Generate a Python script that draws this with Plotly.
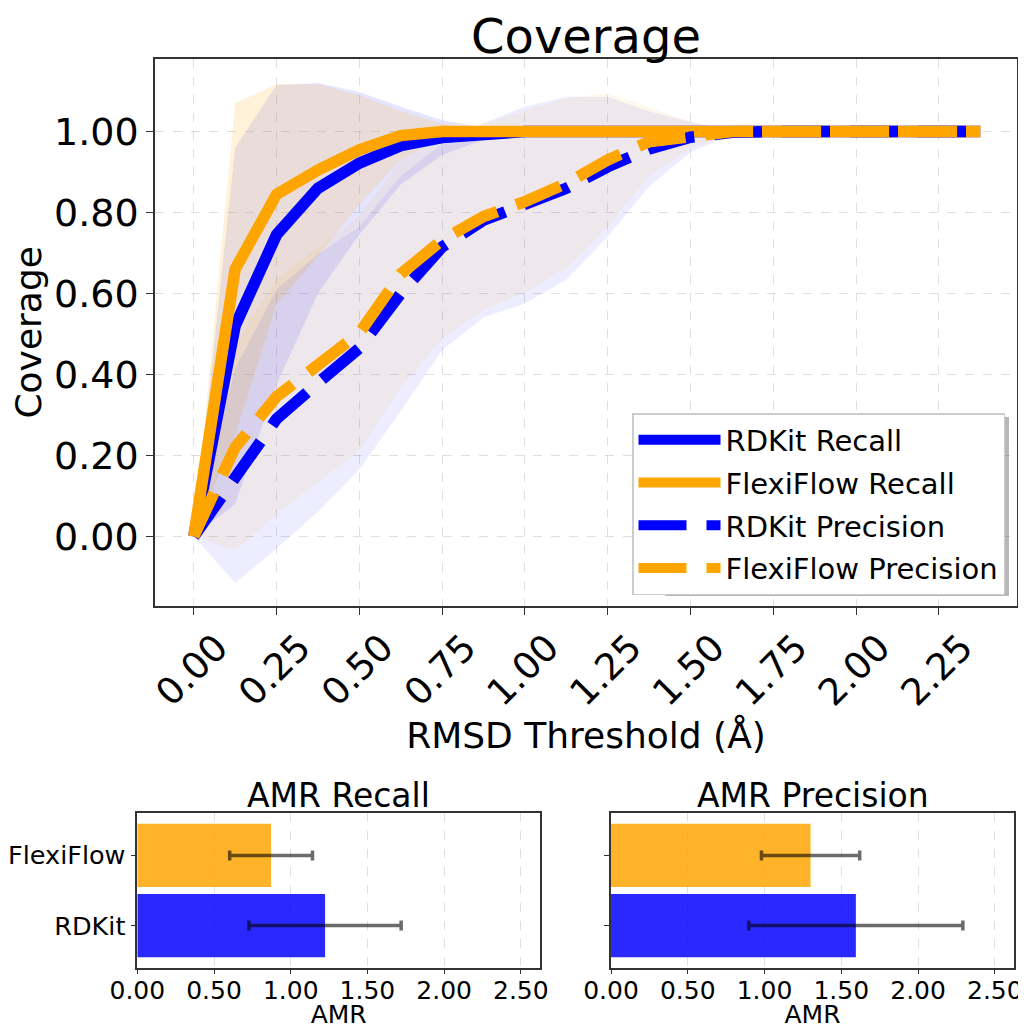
import plotly.graph_objects as go

# ---------------- data ----------------
thresholds = [0.0, 0.125, 0.25, 0.375, 0.5, 0.625, 0.75, 0.875, 1.0, 1.125,
              1.25, 1.375, 1.5, 1.625, 1.75, 1.875, 2.0, 2.125, 2.25, 2.375]

rdkit_recall = [0.0, 0.52, 0.745, 0.86, 0.922, 0.965, 0.985, 0.995, 1.0, 1.0,
                1.0, 1.0, 1.0, 1.0, 1.0, 1.0, 1.0, 1.0, 1.0, 1.0]
rdkit_recall_std = [0.0, 0.44, 0.37, 0.26, 0.176, 0.096, 0.043, 0.015, 0.005, 0.0,
                    0.0, 0.0, 0.0, 0.0, 0.0, 0.0, 0.0, 0.0, 0.0, 0.0]
flexi_recall = [0.0, 0.66, 0.845, 0.905, 0.955, 0.99, 1.0, 1.0, 1.0, 1.0,
                1.0, 1.0, 1.0, 1.0, 1.0, 1.0, 1.0, 1.0, 1.0, 1.0]
flexi_recall_std = [0.0, 0.41, 0.272, 0.212, 0.135, 0.06, 0.02, 0.005, 0.0, 0.0,
                    0.0, 0.0, 0.0, 0.0, 0.0, 0.0, 0.0, 0.0, 0.0, 0.0]
rdkit_prec = [0.0, 0.15, 0.29, 0.379, 0.465, 0.60, 0.715, 0.781, 0.818, 0.86,
              0.913, 0.957, 0.986, 0.998, 1.0, 1.0, 1.0, 1.0, 1.0, 1.0]
rdkit_prec_std = [0.0, 0.265, 0.32, 0.318, 0.30, 0.29, 0.255, 0.24, 0.243, 0.226,
                  0.173, 0.093, 0.038, 0.004, 0.0, 0.0, 0.0, 0.0, 0.0, 0.0]
flexi_prec = [0.0, 0.22, 0.345, 0.424, 0.502, 0.648, 0.732, 0.79, 0.827, 0.872,
              0.93, 0.975, 0.991, 1.0, 1.0, 1.0, 1.0, 1.0, 1.0, 1.0]
flexi_prec_std = [0.0, 0.255, 0.29, 0.29, 0.29, 0.28, 0.245, 0.23, 0.225, 0.21,
                  0.165, 0.085, 0.033, 0.003, 0.0, 0.0, 0.0, 0.0, 0.0, 0.0]

x_ticks = [0.0, 0.25, 0.5, 0.75, 1.0, 1.25, 1.5, 1.75, 2.0, 2.25]
y_ticks = [0.0, 0.2, 0.4, 0.6, 0.8, 1.0]

amr_methods = ["RDKit", "FlexiFlow"]
amr_recall_mean = [1.224, 0.872]
amr_recall_std = [0.496, 0.270]
amr_prec_mean = [1.595, 1.300]
amr_prec_std = [0.697, 0.320]
amr_ticks = [0.0, 0.5, 1.0, 1.5, 2.0, 2.5]

# ---------------- style ----------------
BLUE = "#0000ff"
ORANGE = "#ffa500"
FONT = "DejaVu Sans"
OFF = 8                      # page body margin
W, H = 1026 - OFF, 1029 - OFF


def px_x(p):
    return (p - OFF) / W


def px_y(p):
    return (H - (p - OFF)) / H


fig = go.Figure()

series = [
    ("RDKit Recall", rdkit_recall, rdkit_recall_std, BLUE, "solid", "rgba(0,0,255,0.10)"),
    ("FlexiFlow Recall", flexi_recall, flexi_recall_std, ORANGE, "solid", "rgba(255,165,0,0.15)"),
    ("RDKit Precision", rdkit_prec, rdkit_prec_std, BLUE, "48px,20px", "rgba(0,0,255,0.07)"),
    ("FlexiFlow Precision", flexi_prec, flexi_prec_std, ORANGE, "48px,20px", "rgba(255,165,0,0.07)"),
]

# bands first
for name, m, s, col, dash, fcol in series:
    upper = [a + b for a, b in zip(m, s)]
    lower = [a - b for a, b in zip(m, s)]
    fig.add_trace(go.Scatter(
        x=thresholds + thresholds[::-1],
        y=upper + lower[::-1],
        fill="toself", fillcolor=fcol, line=dict(width=0),
        mode="lines", showlegend=False, hoverinfo="skip",
        xaxis="x", yaxis="y"))

for i, (name, m, s, col, dash, fcol) in enumerate(series):
    fig.add_trace(go.Scatter(
        x=thresholds, y=m, mode="lines", name=name,
        line=dict(color=col, width=11.5, dash=dash),
        legendgroup=f"g{i}",
        xaxis="x", yaxis="y"))

# bar charts
bar_colors = ["rgba(0,0,255,0.84)", "rgba(255,165,0,0.84)"]
for means, stds, xa, ya in [(amr_recall_mean, amr_recall_std, "x2", "y2"),
                            (amr_prec_mean, amr_prec_std, "x3", "y3")]:
    fig.add_trace(go.Bar(
        x=means, y=amr_methods, orientation="h", width=0.9,
        marker=dict(color=bar_colors, line=dict(width=0)),
        error_x=dict(type="data", array=stds, color="rgba(0,0,0,0.58)",
                     thickness=3.5, width=5),
        showlegend=False, xaxis=xa, yaxis=ya))

grid = "rgba(0,0,0,0.12)"
frame = "#333333"

common_axis = dict(showline=True, linecolor=frame, linewidth=1.5, mirror=True,
                   ticks="outside", tickcolor=frame, zeroline=False)

fig.update_layout(
    width=W, height=H,
    margin=dict(l=0, r=0, t=0, b=0),
    paper_bgcolor="white", plot_bgcolor="white",
    font=dict(family=FONT, color="black"),
    title=dict(text="Coverage", x=px_x(586), xanchor="center",
               y=px_y(36), yanchor="middle", font=dict(size=48)),
    xaxis=dict(domain=[px_x(155), px_x(1017)], range=[-0.117, 2.486],
               tickvals=x_ticks, tickformat=".2f", tickangle=-45,
               tickfont=dict(size=37), ticklen=7, ticklabelshift=23,
               ticklabelstandoff=-4,
               showgrid=True, gridcolor=grid, griddash="dash", gridwidth=1.2,
               title=dict(text="RMSD Threshold (Å)", font=dict(size=36), standoff=9),
               automargin=False, anchor="y", **common_axis),
    yaxis=dict(domain=[px_y(606), px_y(58.7)], range=[-0.172, 1.18],
               tickvals=y_ticks, tickformat=".2f", tickfont=dict(size=38), ticklen=7,
               showgrid=True, gridcolor=grid, griddash="dash", gridwidth=1.2,
               title=dict(text="Coverage", font=dict(size=36), standoff=6),
               automargin=False, anchor="x", **common_axis),
    xaxis2=dict(domain=[px_x(137.3), px_x(540)], range=[0, 2.625],
                tickvals=amr_ticks, tickformat=".2f", tickfont=dict(size=25), ticklen=5,
                ticklabelstandoff=-5,
                showgrid=True, gridcolor=grid, griddash="dash", gridwidth=1,
                title=dict(text="AMR", font=dict(size=25), standoff=14),
                automargin=False, anchor="y2", **common_axis),
    yaxis2=dict(domain=[px_y(967.7), px_y(813.3)], range=[-0.6, 1.6],
                type="category", categoryorder="array", categoryarray=amr_methods,
                tickfont=dict(size=25.5), ticklen=5, showgrid=False,
                automargin=False, anchor="x2", **common_axis),
    xaxis3=dict(domain=[px_x(611), px_x(1014)], range=[0, 2.625],
                tickvals=amr_ticks, tickformat=".2f", tickfont=dict(size=25), ticklen=5,
                ticklabelstandoff=-5,
                showgrid=True, gridcolor=grid, griddash="dash", gridwidth=1,
                title=dict(text="AMR", font=dict(size=25), standoff=14),
                automargin=False, anchor="y3", **common_axis),
    yaxis3=dict(domain=[px_y(967.7), px_y(813.3)], range=[-0.6, 1.6],
                type="category", categoryorder="array", categoryarray=amr_methods,
                showticklabels=False, ticklen=5, showgrid=False,
                automargin=False, anchor="x3", **common_axis),
    legend=dict(x=px_x(1005), xanchor="right", y=px_y(413), yanchor="top",
                bgcolor="white", bordercolor="#cccccc", borderwidth=1.5,
                font=dict(size=29), tracegroupgap=2, itemwidth=82),
    annotations=[
        dict(text="AMR Recall", x=px_x(338.6), y=px_y(795), xref="paper", yref="paper",
             xanchor="center", yanchor="middle", showarrow=False, font=dict(size=33)),
        dict(text="AMR Precision", x=px_x(812.5), y=px_y(795), xref="paper", yref="paper",
             xanchor="center", yanchor="middle", showarrow=False, font=dict(size=33)),
    ],
    shapes=[
        dict(type="rect", xref="paper", yref="paper",
             x0=px_x(665), x1=px_x(1009), y0=px_y(596), y1=px_y(417),
             fillcolor="rgba(0,0,0,0.28)", line=dict(width=0), layer="above"),
    ],
)

fig.write_html("out.html")
